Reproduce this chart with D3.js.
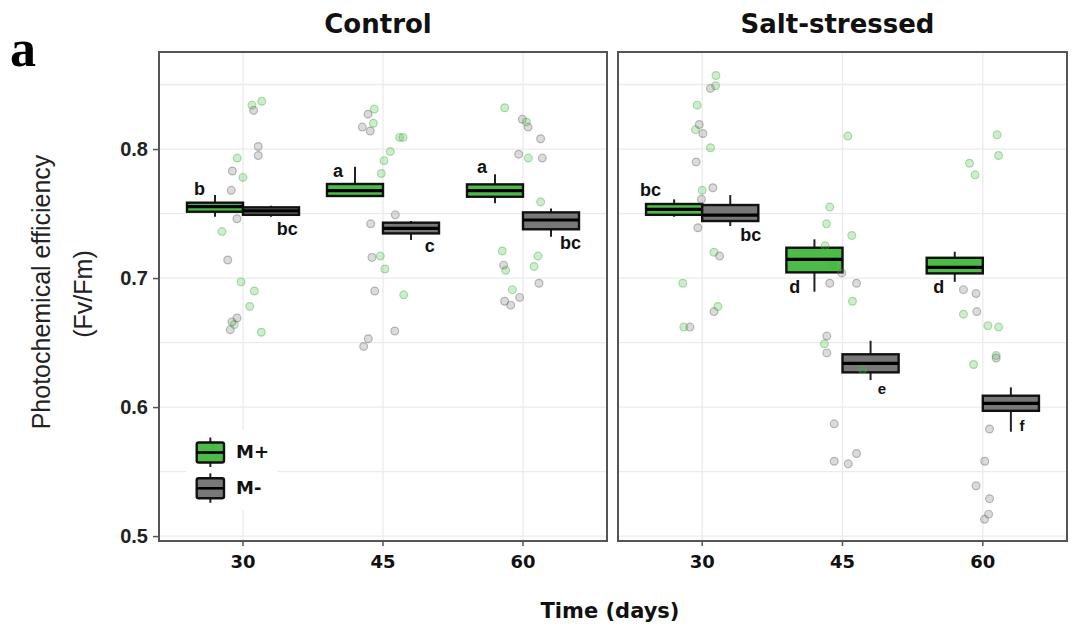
<!DOCTYPE html>
<html>
<head>
<meta charset="utf-8">
<script src="https://cdn.jsdelivr.net/npm/d3@7"></script>
<style>
  html, body { margin: 0; padding: 0; background: #fff; }
  svg { display: block; }
</style>
</head>
<body>
<svg id="chart" width="1072" height="634"></svg>
<script>
// ---------------- DATA ----------------
const panels = ["Control", "Salt-stressed"];
const days = ["30", "45", "60"];
const groups = ["M+", "M-"];
const yTicks = [0.5, 0.6, 0.7, 0.8];

// box stats per day: [min, q1, median, q3, max]
const controlMplusBox  = [[0.7475, 0.7514, 0.7553, 0.7584, 0.7643], [0.7636, 0.7636, 0.7677, 0.7729, 0.7863], [0.7579, 0.7630, 0.7677, 0.7726, 0.7804]];
const controlMminusBox = [[0.7475, 0.7490, 0.7520, 0.7548, 0.7560], [0.7295, 0.7346, 0.7385, 0.7429, 0.7442], [0.7320, 0.7378, 0.7450, 0.7509, 0.7540]];
const saltMplusBox     = [[0.7475, 0.7490, 0.7533, 0.7574, 0.7610], [0.6894, 0.7044, 0.7145, 0.7235, 0.7300], [0.6971, 0.7036, 0.7083, 0.7157, 0.7204]];
const saltMminusBox    = [[0.7403, 0.7442, 0.7488, 0.7566, 0.7643], [0.6209, 0.6269, 0.6339, 0.6409, 0.6514], [0.5809, 0.5971, 0.6029, 0.6088, 0.6153]];

// significance letters per day
const controlMplusLetters  = ["b", "a", "a"];
const controlMminusLetters = ["bc", "c", "bc"];
const saltMplusLetters     = ["bc", "d", "d"];
const saltMminusLetters    = ["bc", "e", "f"];
// letter anchor values (y) per day
const controlMplusLetterY  = [0.769, 0.783, 0.786];
const controlMminusLetterY = [0.738, 0.725, 0.727];
const saltMplusLetterY     = [0.768, 0.693, 0.693];
const saltMminusLetterY    = [0.733, 0.6145, 0.586];
// letter horizontal shift from box centre (category units)
const controlMplusLetterDx  = [-0.11, -0.121, -0.093];
const controlMminusLetterDx = [0.117, 0.134, 0.139];
const saltMplusLetterDx     = [-0.169, -0.14, -0.114];
const saltMminusLetterDx    = [0.146, 0.081, 0.079];

// raw observations: values per day, with jitter (category units)
const controlMplusValues = [
  [0.834, 0.837, 0.793, 0.778, 0.736, 0.697, 0.690, 0.678, 0.664, 0.658],
  [0.831, 0.820, 0.809, 0.809, 0.798, 0.791, 0.781, 0.717, 0.707, 0.687],
  [0.832, 0.821, 0.793, 0.759, 0.721, 0.717, 0.709, 0.706, 0.691]
];
const controlMplusJitter = [
  [0.064, 0.134, -0.041, 0, -0.15, -0.014, 0.081, 0.048, -0.062, 0.131],
  [-0.062, -0.069, 0.119, 0.143, 0.052, 0.007, -0.012, -0.019, 0.014, 0.148],
  [-0.131, 0.024, 0.038, 0.126, -0.148, 0.107, 0.079, -0.124, -0.076]
];
const controlMminusValues = [
  [0.830, 0.802, 0.795, 0.783, 0.768, 0.746, 0.714, 0.669, 0.666, 0.660],
  [0.827, 0.817, 0.814, 0.749, 0.742, 0.716, 0.690, 0.659, 0.653, 0.647],
  [0.823, 0.817, 0.808, 0.796, 0.793, 0.710, 0.696, 0.685, 0.682, 0.679]
];
const controlMminusJitter = [
  [0.076, 0.109, 0.109, -0.076, -0.084, -0.043, -0.109, -0.043, -0.079, -0.091],
  [-0.107, -0.148, -0.091, 0.088, -0.088, -0.079, -0.059, 0.084, -0.105, -0.138],
  [-0.005, 0.036, 0.126, -0.031, 0.138, -0.138, 0.114, -0.024, -0.131, -0.088]
];
const saltMplusValues = [
  [0.857, 0.849, 0.834, 0.815, 0.801, 0.768, 0.720, 0.696, 0.678, 0.662],
  [0.810, 0.755, 0.742, 0.733, 0.725, 0.710, 0.682, 0.649, 0.629],
  [0.811, 0.795, 0.789, 0.780, 0.672, 0.663, 0.662, 0.640, 0.633]
];
const saltMplusJitter = [
  [0.098, 0.095, -0.036, -0.048, 0.059, 0, 0.084, -0.138, 0.112, -0.131],
  [0.038, -0.091, -0.114, 0.066, -0.124, -0.071, 0.071, -0.129, 0.143],
  [0.102, 0.112, -0.095, -0.055, -0.138, 0.036, 0.112, 0.095, -0.066]
];
const saltMminusValues = [
  [0.847, 0.819, 0.812, 0.790, 0.770, 0.761, 0.739, 0.717, 0.674, 0.662],
  [0.704, 0.696, 0.696, 0.655, 0.642, 0.587, 0.558, 0.556, 0.564],
  [0.691, 0.688, 0.674, 0.638, 0.583, 0.558, 0.539, 0.529, 0.517, 0.513]
];
const saltMminusJitter = [
  [0.059, -0.021, 0.005, -0.043, 0.076, -0.005, -0.031, 0.124, 0.084, -0.088],
  [-0.005, -0.091, 0.1, -0.112, -0.112, -0.059, -0.059, 0.041, 0.1],
  [-0.138, -0.048, -0.043, 0.095, 0.048, 0.014, -0.048, 0.048, 0.041, 0.012]
];

// ---------------- BUILD ----------------
const panelData = [
  { name: panels[0],
    box: { "M+": controlMplusBox, "M-": controlMminusBox },
    letters: { "M+": controlMplusLetters, "M-": controlMminusLetters },
    letterY: { "M+": controlMplusLetterY, "M-": controlMminusLetterY },
    letterDx: { "M+": controlMplusLetterDx, "M-": controlMminusLetterDx },
    values: { "M+": controlMplusValues, "M-": controlMminusValues },
    jitter: { "M+": controlMplusJitter, "M-": controlMminusJitter } },
  { name: panels[1],
    box: { "M+": saltMplusBox, "M-": saltMminusBox },
    letters: { "M+": saltMplusLetters, "M-": saltMminusLetters },
    letterY: { "M+": saltMplusLetterY, "M-": saltMminusLetterY },
    letterDx: { "M+": saltMplusLetterDx, "M-": saltMminusLetterDx },
    values: { "M+": saltMplusValues, "M-": saltMminusValues },
    jitter: { "M+": saltMplusJitter, "M-": saltMminusJitter } }
];

const fillColor = { "M+": "#4cbb47", "M-": "#787878" };
const ptFill = { "M+": "rgba(70,180,70,0.26)", "M-": "rgba(110,110,110,0.25)" };
const ptStroke = { "M+": "rgba(70,180,70,0.42)", "M-": "rgba(110,110,110,0.45)" };

const svg = d3.select("#chart");
const plotTop = 52, plotBottom = 541;
const panelX = [[159, 607], [618, 1067]];

const y = d3.scaleLinear().domain([0.4962, 0.8752]).range([plotBottom, plotTop]);
const gridVals = d3.range(0.5, 0.851, 0.05);

const sansBold = "'Liberation Sans', Arial, sans-serif";
const wideBold = "'DejaVu Sans', Verdana, sans-serif";

panelData.forEach((p, pi) => {
  const [x0, x1] = panelX[pi];
  const x = d3.scaleBand().domain(days).range([x0, x1]).paddingInner(0).paddingOuter(0.1);
  const step = x.step();
  const xg = d3.scaleBand().domain(groups).range([-0.4 * step, 0.4 * step]).paddingInner(0);
  const cx = d => x(d) + x.bandwidth() / 2;

  const g = svg.append("g");
  g.append("rect").attr("x", x0).attr("y", plotTop).attr("width", x1 - x0).attr("height", plotBottom - plotTop).attr("fill", "#fff");
  g.selectAll("line.hg").data(gridVals).join("line")
    .attr("x1", x0).attr("x2", x1).attr("y1", d => y(d)).attr("y2", d => y(d))
    .attr("stroke", "#ebebeb").attr("stroke-width", 1.3);
  g.selectAll("line.vg").data(days).join("line")
    .attr("x1", d => cx(d)).attr("x2", d => cx(d)).attr("y1", plotTop).attr("y2", plotBottom)
    .attr("stroke", "#ebebeb").attr("stroke-width", 1.3);

  if (pi === 0) {
    g.append("rect").attr("x", 186).attr("y", 430).attr("width", 91).attr("height", 80).attr("fill", "#fff");
  }

  groups.forEach(gr => {
    days.forEach((d, di) => {
      const s = p.box[gr][di];
      const bx = cx(d) + xg(gr);
      const bw = xg.bandwidth();
      const mid = bx + bw / 2;
      g.append("line").attr("x1", mid).attr("x2", mid).attr("y1", y(s[4])).attr("y2", y(s[0]))
        .attr("stroke", "#222").attr("stroke-width", 2);
      g.append("rect").attr("x", bx).attr("y", y(s[3])).attr("width", bw).attr("height", Math.max(1, y(s[1]) - y(s[3])))
        .attr("fill", fillColor[gr]).attr("stroke", "#111").attr("stroke-width", 2.4);
      g.append("line").attr("x1", bx).attr("x2", bx + bw).attr("y1", y(s[2])).attr("y2", y(s[2]))
        .attr("stroke", "#000").attr("stroke-width", 3.2);
      const lt = p.letters[gr][di];
      const small = (lt === "e" || lt === "f");
      g.append("text").attr("x", mid + p.letterDx[gr][di] * step).attr("y", y(p.letterY[gr][di]))
        .attr("text-anchor", "middle").attr("dominant-baseline", "central")
        .attr("font-family", sansBold).attr("font-weight", "bold")
        .attr("font-size", small ? 15 : 18).attr("fill", "#111").text(lt);
    });
  });

  groups.forEach(gr => {
    days.forEach((d, di) => {
      const vals = p.values[gr][di];
      const jit = p.jitter[gr][di];
      g.selectAll(null).data(vals.map((v, i) => ({ v, j: jit[i] }))).join("circle")
        .attr("cx", o => cx(d) + o.j * step).attr("cy", o => y(o.v)).attr("r", 3.9)
        .attr("fill", ptFill[gr]).attr("stroke", ptStroke[gr]).attr("stroke-width", 1.2);
    });
  });

  g.append("rect").attr("x", x0).attr("y", plotTop).attr("width", x1 - x0).attr("height", plotBottom - plotTop)
    .attr("fill", "none").attr("stroke", "#555").attr("stroke-width", 2);

  const xa = svg.append("g").attr("transform", `translate(0,${plotBottom})`)
    .call(d3.axisBottom(x).tickSize(5).tickSizeOuter(0));
  xa.select(".domain").remove();
  xa.selectAll(".tick line").attr("stroke", "#555").attr("stroke-width", 1.5);
  xa.selectAll(".tick text").attr("y", 14).attr("dy", "0.71em")
    .attr("font-family", wideBold).attr("font-weight", "bold").attr("font-size", 18).attr("fill", "#111");

  svg.append("text").attr("x", (x0 + x1) / 2 - 5).attr("y", 33).attr("text-anchor", "middle")
    .attr("font-family", wideBold).attr("font-weight", "bold").attr("font-size", 26).attr("fill", "#111")
    .text(p.name);

  if (pi === 0) {
    const ya = svg.append("g").attr("transform", `translate(${x0},0)`)
      .call(d3.axisLeft(y).tickValues(yTicks).tickFormat(d3.format(".1f")).tickSize(6));
    ya.select(".domain").remove();
    ya.selectAll(".tick line").attr("stroke", "#555").attr("stroke-width", 1.5);
    ya.selectAll(".tick text").attr("x", -11)
      .attr("font-family", sansBold).attr("font-weight", "bold").attr("font-size", 20).attr("fill", "#222");
  }
});

function legendKey(gr, cy) {
  const lx = 196.7, lw = 27.3, lh = 20;
  svg.append("line").attr("x1", lx + lw / 2).attr("x2", lx + lw / 2).attr("y1", cy - 15).attr("y2", cy + 14.5)
    .attr("stroke", "#222").attr("stroke-width", 2);
  svg.append("rect").attr("x", lx).attr("y", cy - lh / 2).attr("width", lw).attr("height", lh).attr("rx", 2)
    .attr("fill", fillColor[gr]).attr("stroke", "#111").attr("stroke-width", 2.4);
  svg.append("line").attr("x1", lx).attr("x2", lx + lw).attr("y1", cy).attr("y2", cy)
    .attr("stroke", "#000").attr("stroke-width", 2.6);
  svg.append("text").attr("x", 236).attr("y", cy + 5.5)
    .attr("font-family", wideBold).attr("font-weight", "bold").attr("font-size", 18).attr("fill", "#111").text(gr);
}
legendKey(groups[0], 452.5);
legendKey(groups[1], 488.3);

svg.append("text").attr("transform", "translate(50,292) rotate(-90)").attr("text-anchor", "middle")
  .attr("font-family", "'Liberation Sans', Arial, sans-serif").attr("font-size", 25).attr("fill", "#222")
  .text("Photochemical efficiency");
svg.append("text").attr("transform", "translate(92,294) rotate(-90)").attr("text-anchor", "middle")
  .attr("font-family", "'Liberation Sans', Arial, sans-serif").attr("font-size", 25).attr("fill", "#222")
  .text("(Fv/Fm)");
svg.append("text").attr("x", 610).attr("y", 618).attr("text-anchor", "middle")
  .attr("font-family", wideBold).attr("font-weight", "bold").attr("font-size", 21).attr("fill", "#111")
  .text("Time (days)");
svg.append("text").attr("x", 10).attr("y", 66)
  .attr("font-family", "'Liberation Serif', 'DejaVu Serif', serif").attr("font-weight", "bold")
  .attr("font-size", 52).attr("fill", "#000")
  .text("a");
</script>
</body>
</html>
